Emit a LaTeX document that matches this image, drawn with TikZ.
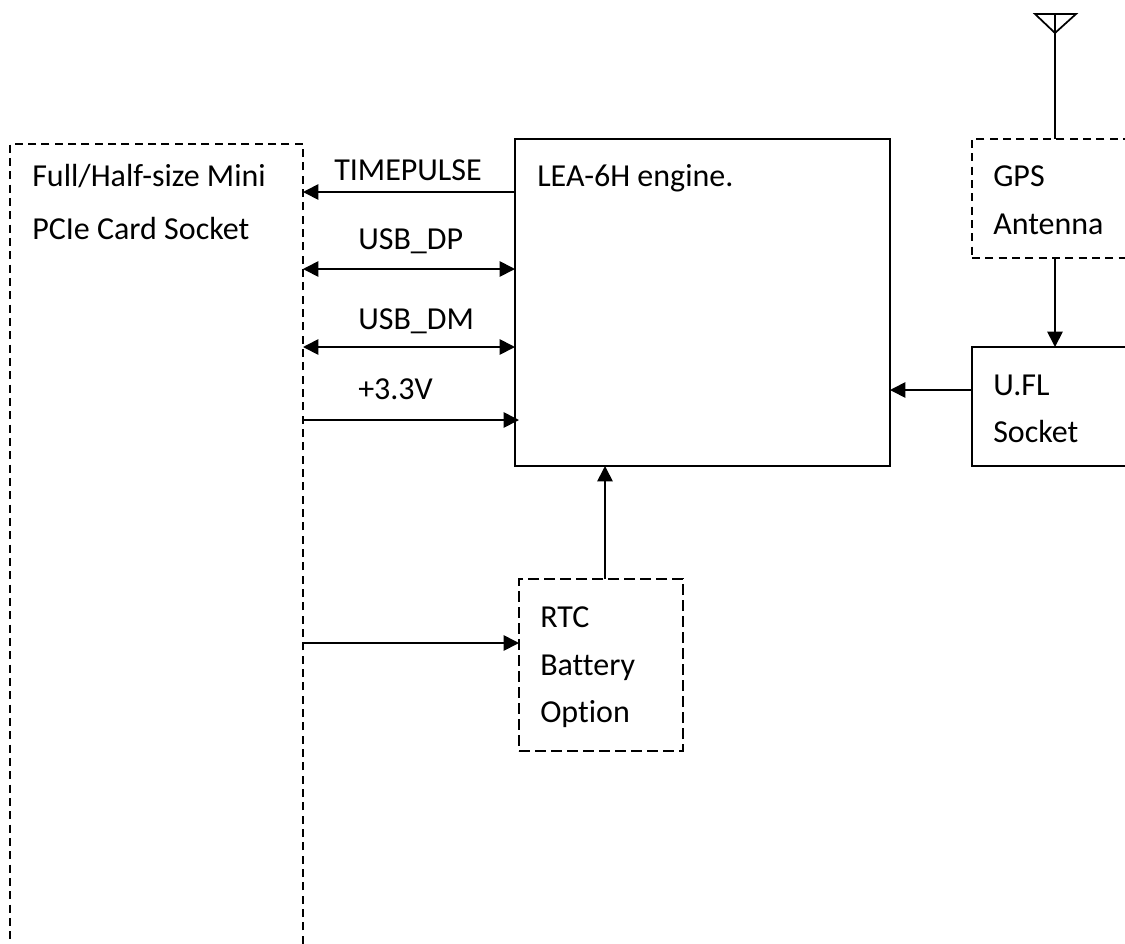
\documentclass[tikz,border=0pt]{standalone}
\usepackage{fontspec}
\usepackage{xcolor}
\usetikzlibrary{arrows.meta}
\setmainfont[Ligatures=NoCommon]{Carlito}
\tikzset{
	box/.style = {shape=rectangle, draw, line width=1.3pt, anchor=north west, inner sep=0pt, outer sep=0pt},
	dashbox/.style = {box, dash pattern=on 6pt off 4pt},
	longdashbox/.style = {box, dash pattern=on 8.5pt off 3.5pt},
	txt/.style = {anchor=base west, inner sep=0pt, align=left, font=\fontsize{24}{36}\selectfont},
	wire/.style = {line width=1.3pt, -{Triangle[length=11.5pt,width=11.5pt]}},
	dblwire/.style = {wire, {Triangle[length=11.5pt,width=11.5pt]}-{Triangle[length=11.5pt,width=11.5pt]}}
}
\begin{document}
\begin{tikzpicture}[x=0.75pt, y=-0.75pt]
	\useasboundingbox (0,0) rectangle (1125,943);
	\clip (0,0) rectangle (1125,943);
	% boxes
	\node[dashbox, minimum width=219.75pt, minimum height=660pt] (socket) at (10,144) {};
	\node[box, minimum width=281.25pt, minimum height=245.25pt] (engine) at (515,139) {};
	\node[dashbox, minimum width=150pt, minimum height=89.25pt] (gps) at (972,139) {};
	\node[box, minimum width=150pt, minimum height=89.25pt] (ufl) at (972,347) {};
	\node[longdashbox, minimum width=123pt, minimum height=129pt] (rtc) at (519,579) {};
	% box texts
	\node[txt] (sockettxt) at (32,186) {Full/Half-size Mini};
	\node[txt] (sockettxt2) at (32,239) {PCIe Card Socket};
	\node[txt] (enginetxt) at (537,186) {LEA-6H engine.};
	\node[txt] (gpstxt) at (993,186) {GPS};
	\node[txt] (gpstxt2) at (993,234) {Antenna};
	\node[txt] (ufltxt) at (993,395) {U.FL};
	\node[txt] (ufltxt2) at (993,442) {Socket};
	\node[txt] (rtctxt) at (540,627) {RTC};
	\node[txt] (rtctxt2) at (540,675) {Battery};
	\node[txt] (rtctxt3) at (540,722) {Option};
	% wire labels
	\node[txt] (tplabel) at (334,180) {TIMEPULSE};
	\node[txt] (dplabel) at (358,249) {USB\_DP};
	\node[txt] (dmlabel) at (358,329) {USB\_DM};
	\node[txt] (pwrlabel) at (358,399) {+3.3V};
	% wire heights
	\coordinate (tp) at (0,192);
	\coordinate (dp) at (0,269);
	\coordinate (dm) at (0,347);
	\coordinate (pwr) at (0,420);
	\coordinate (bat) at (0,643);
	\coordinate (sig) at (0,390);
	\coordinate (rtcup) at (605,0);
	\coordinate (antline) at (1055,0);
	\coordinate (pwrend) at (519,420);
	% wires
	\draw[wire] (engine.west |- tp) -- (socket.east |- tp);
	\draw[dblwire] (socket.east |- dp) -- (engine.west |- dp);
	\draw[dblwire] (socket.east |- dm) -- (engine.west |- dm);
	\draw[wire] (socket.east |- pwr) -- (pwrend);
	\draw[wire] (socket.east |- bat) -- (rtc.west |- bat);
	\draw[wire] (ufl.west |- sig) -- (engine.east |- sig);
	\draw[wire] (rtc.north -| rtcup) -- (engine.south -| rtcup);
	\draw[wire] (gps.south -| antline) -- (ufl.north -| antline);
	% antenna
	\coordinate (anttop) at (1055,14);
	\coordinate (antleft) at (1035,14);
	\coordinate (antright) at (1076,14);
	\coordinate (antapex) at (1055,33);
	\draw[line width=1.3pt] (antleft) -- (antright) -- (antapex) -- cycle;
	\draw[line width=1.3pt] (anttop) -- (gps.north -| antline);
\end{tikzpicture}
\end{document}
